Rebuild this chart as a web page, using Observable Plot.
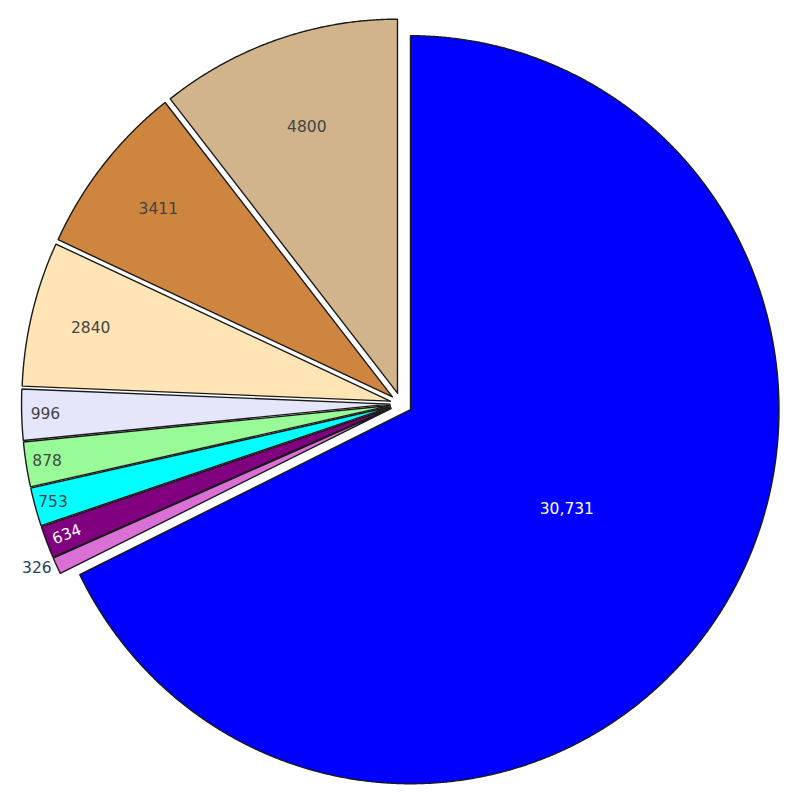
<!DOCTYPE html>
<html><head><meta charset="utf-8">
<script src="https://cdn.jsdelivr.net/npm/d3@7"></script>
<script src="https://cdn.jsdelivr.net/npm/@observablehq/plot@0.6"></script>
<style>body{margin:0;background:#fff}#chart svg{display:block}</style>
</head><body><div id="chart"></div>
<script>
// ---- data (clockwise from 12 o'clock) ----
const values = [30731, 326, 634, 753, 878, 996, 2840, 3411, 4800];
const sliceColors = ["blue", "orchid", "purple", "cyan", "palegreen", "lavender", "moccasin", "peru", "tan"];
const pull = 0.03;

// ---- layout ----
const W = 799, H = 798;
const RX = 368.5, RY = 374, CX = 400.6, CY = 403.3;
const FONT = 15.5;
const FONT_FAMILY = "'DejaVu Sans', Verdana, sans-serif";

const total = d3.sum(values);
const arcs = d3.pie().sort(null).value(d => d)(values);

// slice outlines in unit-circle coordinates
const slicePts = [];
arcs.forEach((a, i) => {
  const mid = (a.startAngle + a.endAngle) / 2;
  const ox = pull * Math.sin(mid), oy = pull * Math.cos(mid);
  const c = sliceColors[i];
  slicePts.push({id: i, x: ox, y: oy, color: c});
  const n = Math.max(2, Math.ceil((a.endAngle - a.startAngle) / (Math.PI / 720)));
  for (let k = 0; k <= n; k++) {
    const t = a.startAngle + (a.endAngle - a.startAngle) * k / n;
    slicePts.push({id: i, x: ox + Math.sin(t), y: oy + Math.cos(t), color: c});
  }
  slicePts.push({id: i, x: ox, y: oy, color: c});
});

// ---- label placement (plotly-like "auto" text position) ----
const fmt = v => v >= 10000 ? d3.format(",")(v) : String(v);
const R = (RX + RY) / 2;
function textBox(s) {
  let w = 0;
  for (const ch of s) w += (ch === "," ? 0.318 : 0.636) * FONT;
  return {w, h: FONT * 1.3};
}
function norm(deg) {
  while (deg > 90) deg -= 180;
  while (deg <= -90) deg += 180;
  return deg;
}
const labelData = arcs.map((a, i) => {
  const text = fmt(values[i]);
  const {w, h} = textBox(text);
  const frac = values[i] / total;
  const mid = (a.startAngle + a.endAngle) / 2;
  const half = Math.PI * Math.min(frac, 0.5);
  const sx = Math.sin(mid), sy = Math.cos(mid);
  const ox = pull * sx, oy = pull * sy;
  const rIns = Math.min(1 / (1 + 1 / Math.sin(half)), 0.5);
  const radDeg = Math.atan2(-sy * RY, sx * RX) * 180 / Math.PI;
  let best = {scale: rIns * R * 2 / Math.hypot(w, h), rc: 1 - rIns, rot: 0};
  if (best.scale < 1) {
    const rr = R - 6;
    const maxHalf = aa => {
      const q = aa + 1 / (2 * Math.tan(half));
      return rr * Math.min(1 / (Math.sqrt(q * q + 0.5) + q), 1 / (Math.sqrt(aa * aa + 0.5) + aa));
    };
    const ar = w / h, sr = maxHalf(ar);
    const rad = {scale: 2 * sr / h, rc: Math.cos(sr / rr) - ar * sr / rr, rot: norm(radDeg)};
    const at = h / w, st = maxHalf(at);
    const tan = {scale: 2 * st / w, rc: Math.cos(st / rr) - at * st / rr, rot: norm(radDeg + 90)};
    for (const t of [rad, tan]) if (t.scale > best.scale) best = t;
  }
  const inside = best.scale >= 1;
  let x, y, fill, rot;
  if (inside) {
    x = ox + best.rc * sx; y = oy + best.rc * sy; rot = best.rot;
    fill = d3.lab(sliceColors[i]).l < 50 ? "#ffffff" : "#444444";
  } else {
    const px = sx * RX, py = -sy * RY;
    let dx = w / 2, dy = h / 2;
    if (px < 0) dx *= -1;
    if (py < 0) dy *= -1;
    const offX = dx + Math.abs(dy) * (dx > 0 ? 1 : -1) / 2;
    const offY = dy / (1 + px * px / (py * py));
    x = ox + sx + offX / RX; y = oy + sy - offY / RY; rot = 0;
    fill = "#2a3f5f";
  }
  return {x, y, text, fill, rot};
});

const chart = Plot.plot({
  width: W, height: H, margin: 0,
  style: {background: "#fff"},
  x: {domain: [-CX / RX, (W - CX) / RX], axis: null},
  y: {domain: [(CY - H) / RY, CY / RY], axis: null},
  color: {type: "identity"},
  marks: [
    Plot.line(slicePts, {x: "x", y: "y", z: "id", fill: "color", stroke: "#1a1a1a", strokeWidth: 1.4, strokeLinejoin: "miter", curve: "linear"}),
    Plot.text(labelData, {x: "x", y: "y", text: "text", fill: "fill", rotate: "rot",
      textAnchor: "middle", lineAnchor: "middle", fontSize: FONT, fontFamily: FONT_FAMILY})
  ]
});
document.getElementById("chart").appendChild(chart);
</script>
</body></html>
